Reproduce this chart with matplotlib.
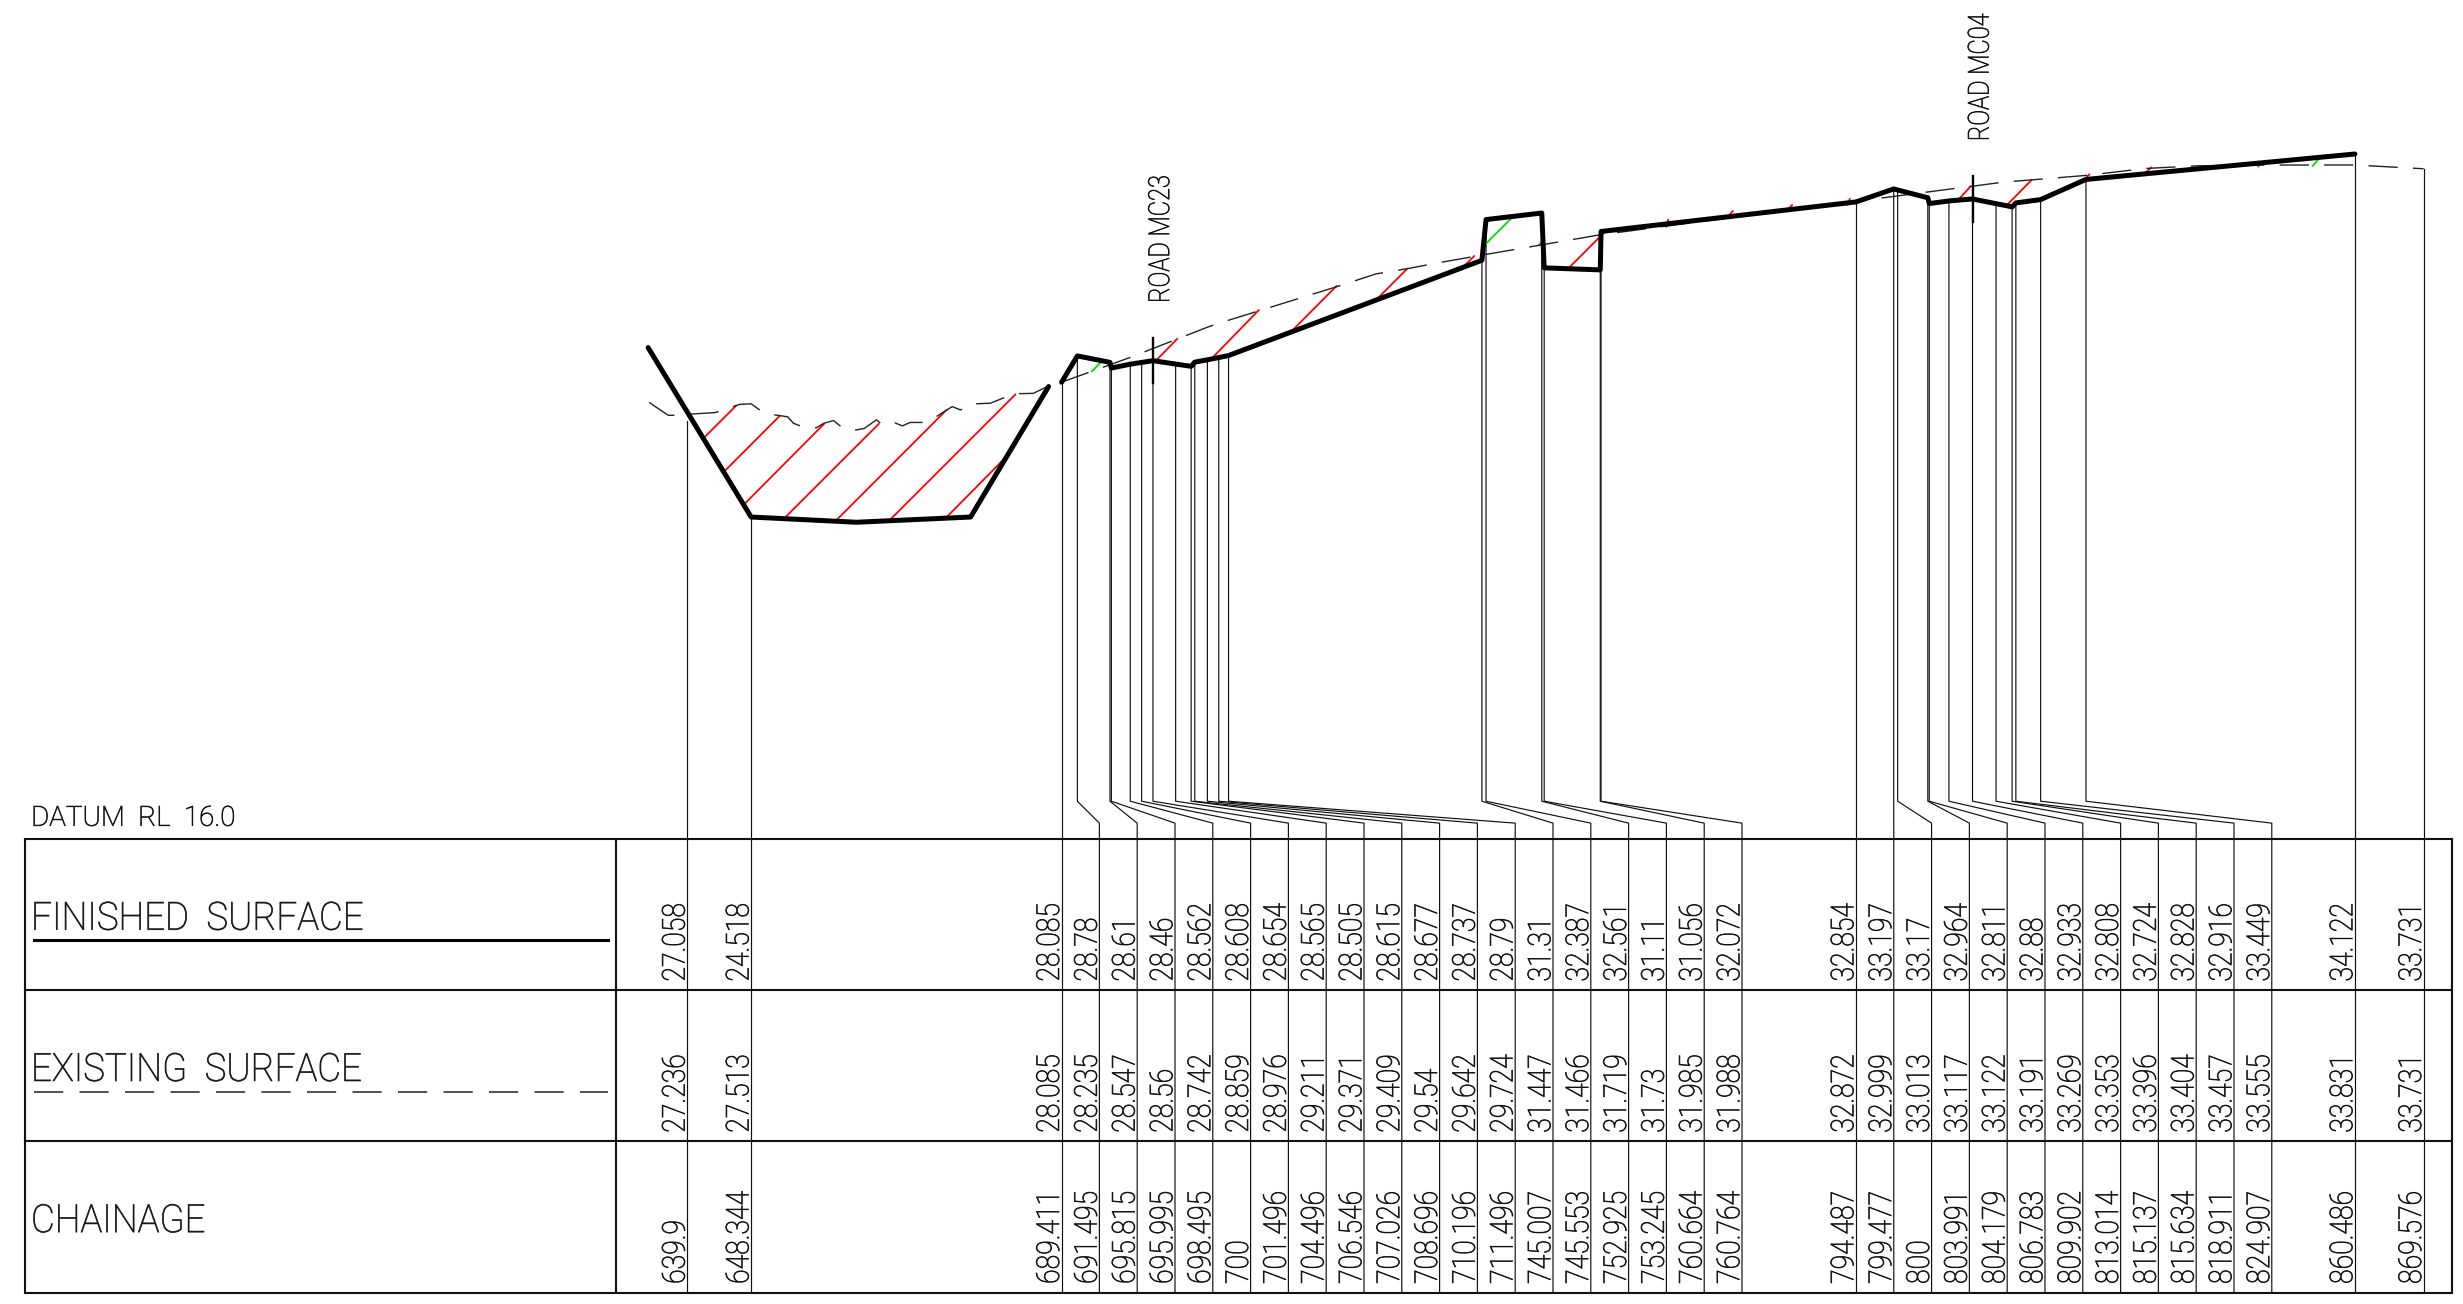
import matplotlib
matplotlib.use('Agg')
import matplotlib.pyplot as plt
import matplotlib.patheffects as pe
from matplotlib.transforms import Affine2D

# Station values
chainage = ['639.9', '648.344', '689.411', '691.495', '695.815', '695.995', '698.495', '700',
            '701.496', '704.496', '706.546', '707.026', '708.696', '710.196', '711.496', '745.007',
            '745.553', '752.925', '753.245', '760.664', '760.764', '794.487', '799.477', '800',
            '803.991', '804.179', '806.783', '809.902', '813.014', '815.137', '815.634', '818.911',
            '824.907', '860.486', '869.576']
finished = ['27.058', '24.518', '28.085', '28.78', '28.61', '28.46', '28.562', '28.608',
            '28.654', '28.565', '28.505', '28.615', '28.677', '28.737', '28.79', '31.31',
            '32.387', '32.561', '31.11', '31.056', '32.072', '32.854', '33.197', '33.17',
            '32.964', '32.811', '32.88', '32.933', '32.808', '32.724', '32.828', '32.916',
            '33.449', '34.122', '33.731']
existing = ['27.236', '27.513', '28.085', '28.235', '28.547', '28.56', '28.742', '28.859',
            '28.976', '29.211', '29.371', '29.409', '29.54', '29.642', '29.724', '31.447',
            '31.466', '31.719', '31.73', '31.985', '31.988', '32.872', '32.999', '33.013',
            '33.117', '33.122', '33.191', '33.269', '33.353', '33.396', '33.404', '33.457',
            '33.555', '33.831', '33.731']

# Finished surface: drain section, then the road from 689.411 on
drain_ch = [634.72, 648.344, 662.28, 677.37, 687.69]
drain_rl = [29.0, 24.518, 24.38, 24.518, 27.97]

# Existing surface vertices that do not fall on a station
ground_ch = [634.85, 637.38, 637.98, 639.9, 643.55, 644.06, 645.07, 645.98, 646.84, 648.344,
             649.63, 650.64, 651.5, 653.17, 653.93, 655.09, 656.97, 657.98, 659.25, 660.41,
             662.18, 663.3, 664.92, 665.72, 667.35, 668.36, 669.37, 671.04, 672.81, 674.94,
             676.05, 677.72, 680.0, 681.62, 683.29, 685.67, 687.69]
ground_rl = [27.55, 27.21, 27.21, 27.236, 27.28, 27.31, 27.38, 27.44, 27.5, 27.513,
             27.33, 27.26, 27.22, 27.17, 27.0, 26.91, 26.88, 27.0, 27.07, 26.88,
             26.82, 26.86, 27.09, 26.96, 27.01, 26.93, 27.02, 27.02, 27.17, 27.44,
             27.35, 27.51, 27.53, 27.66, 27.78, 27.79, 27.985]
extra_ch = [725.78, 731.01, 735.19, 738.85, 832.84, 839.75, 847.81]
extra_rl = [30.61, 30.95, 31.09, 31.23, 33.74, 33.81, 33.83]

# Cut and fill hatching: ch1, rl1, ch2, rl2
cut_hatch = [(642.03, 26.60, 646.34, 27.46), (644.72, 25.71, 652.06, 27.18),
             (647.35, 24.84, 657.98, 26.98), (652.66, 24.47, 665.22, 26.98),
             (659.45, 24.40, 674.18, 27.35), (666.59, 24.42, 683.29, 27.76),
             (674.03, 24.48, 682.13, 26.12), (701.77, 28.63, 704.70, 29.23),
             (709.16, 28.69, 715.48, 29.99), (719.67, 29.40, 725.78, 30.63),
             (731.01, 30.26, 735.09, 31.08), (742.41, 31.11, 743.98, 31.42),
             (756.42, 31.09, 760.66, 31.94), (769.40, 32.20, 769.65, 32.38),
             (777.53, 32.46, 778.19, 32.61), (785.41, 32.64, 786.03, 32.77),
             (793.38, 32.78, 793.67, 32.93), (807.89, 32.88, 809.62, 33.26),
             (814.35, 32.75, 817.69, 33.43), (824.60, 33.42, 825.35, 33.58),
             (832.55, 33.59, 833.53, 33.76), (840.44, 33.72, 840.56, 33.80)]
fill_hatch = [(693.41, 28.37, 694.78, 28.65), (745.13, 31.67, 749.20, 32.48),
              (752.55, 31.71, 752.97, 31.82), (760.92, 31.98, 761.44, 32.09),
              (801.56, 33.05, 801.73, 33.10), (847.70, 33.79, 848.27, 33.91),
              (854.90, 33.81, 856.05, 34.07)]

# Table rows sit on RL values of the long section
row_rl = [16, 12, 8, 4]
row_titles = ['FINISHED  SURFACE', 'EXISTING  SURFACE', 'CHAINAGE']
roads = [('ROAD MC23', 701.496), ('ROAD MC04', 809.902)]

ch = [float(c) for c in chainage]
fs = [float(v) for v in finished]
es = [float(v) for v in existing]


# The drawing font is narrower than anything installed, so glyphs get squeezed
# and given a thin outline to even out the strokes
class Squeeze(pe.AbstractPathEffect):
    def __init__(self, sx, sy=1.0, stroke=0.5):
        super().__init__()
        self.sx = sx
        self.sy = sy
        self.stroke = stroke

    def draw_path(self, renderer, gc, tpath, affine, rgbFace=None):
        gc0 = renderer.new_gc()
        gc0.copy_properties(gc)
        gc0.set_linewidth(self.stroke)
        renderer.draw_path(gc0, tpath, Affine2D().scale(self.sx, self.sy) + affine, rgbFace)
        gc0.restore()


plt.rcParams['font.family'] = ['Roboto', 'Liberation Sans', 'DejaVu Sans']
plt.rcParams['font.weight'] = 'light'

fig = plt.figure(figsize=(24.63, 13.04), dpi=100)
ax = fig.add_axes([0, 0, 1, 1])
ax.set_xlim(548.99, 874.78)
ax.set_ylim(3.699, 38.196)
ax.axis('off')

ink = '#111111'

# Table frame
tab_left, tab_split, tab_right = 552.35, 630.5, 873.3
for r in row_rl:
    ax.plot([tab_left, tab_right], [r, r], color=ink, lw=1.5, zorder=3)
for x in [tab_left, tab_split, tab_right]:
    ax.plot([x, x], [row_rl[0], row_rl[-1]], color=ink, lw=1.5, zorder=3)

# Leaders, spread out so that columns are at least 5 m apart
label_x = []
for c in ch:
    if label_x and c < label_x[-1] + 5.0:
        label_x.append(label_x[-1] + 5.0)
    else:
        label_x.append(c)
for c, lx, rl in zip(ch, label_x, fs):
    ax.plot([c, c, lx, lx], [rl, 17.0, 16.42, row_rl[-1]], color=ink, lw=0.85, zorder=1)

# Values in the table
for i in range(len(ch)):
    for text, r in zip([finished[i], existing[i], chainage[i]], row_rl[1:]):
        ax.text(label_x[i] + 0.45, r + 0.23, text, rotation=90, ha='right', va='bottom',
                fontsize=22.8, color=ink, path_effects=[Squeeze(0.84)])

# Row titles and the line key
for title, r in zip(row_titles, row_rl[1:]):
    ax.text(553.1, r + 1.6, title, fontsize=28, ha='left', va='baseline', color=ink,
            path_effects=[Squeeze(0.94)])
ax.plot([553.5, 629.4], [13.33, 13.33], color='black', lw=2.2, zorder=3)
ax.plot([553.5, 629.4], [9.32, 9.32], color='#333333', lw=1.2, linestyle=(0, (17.5, 9.8)), zorder=3)
ax.text(553.1, 16.35, 'DATUM  RL  16.0', fontsize=20, ha='left', va='baseline', color=ink,
        path_effects=[Squeeze(1.0)])

# Hatching under the surfaces
for seg in cut_hatch:
    ax.plot([seg[0], seg[2]], [seg[1], seg[3]], color='#ff0000', lw=1.3, zorder=2)
for seg in fill_hatch:
    ax.plot([seg[0], seg[2]], [seg[1], seg[3]], color='#00e000', lw=1.3, zorder=2)

# Existing surface
ground = list(zip(ground_ch, ground_rl))
ground += [(c, v) for c, v in zip(ch, es) if c > 687.69]
ground += list(zip(extra_ch, extra_rl))
ground.sort()
ax.plot([p[0] for p in ground], [p[1] for p in ground], color='#222222', lw=1.0,
        linestyle=(0, (21, 11)), zorder=2)

# Finished surface
ax.plot(drain_ch, drain_rl, color='black', lw=3.6, solid_capstyle='round', solid_joinstyle='round', zorder=4)
ax.plot(ch[2:-1], fs[2:-1], color='black', lw=3.6, solid_capstyle='round', solid_joinstyle='round', zorder=4)

# Road crossings
for name, c in roads:
    rl = fs[ch.index(c)]
    ax.plot([c, c], [rl - 0.6, rl + 0.6], color='black', lw=1.7, zorder=5)
    ax.text(c + 2.8, rl + 1.53, name, rotation=90, ha='right', va='bottom', fontsize=16.5, color=ink,
            path_effects=[Squeeze(1.03, 1.27)])

fig.savefig('out.png', dpi=100, facecolor='white')
